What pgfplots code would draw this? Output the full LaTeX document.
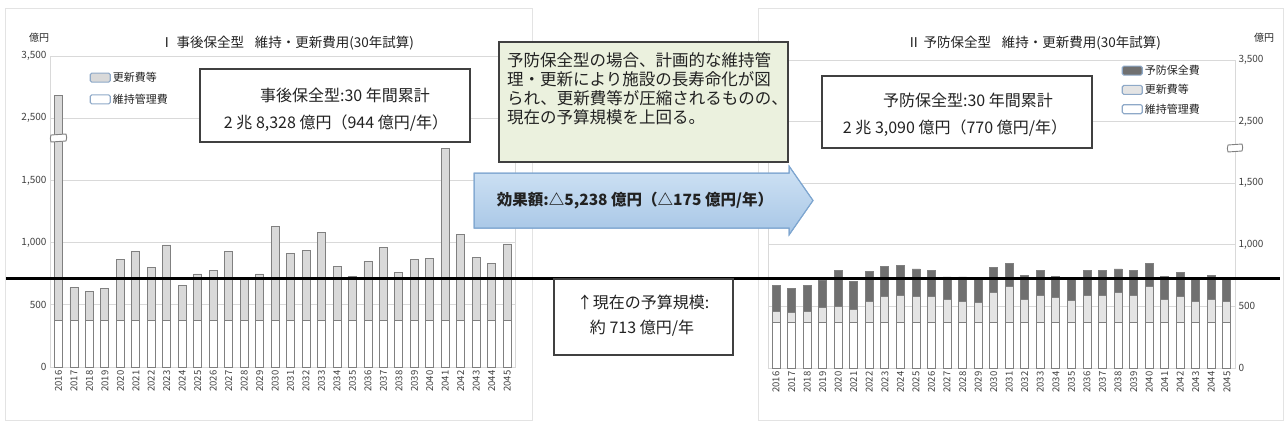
\documentclass[border=0pt]{standalone}
\usepackage{fontspec}
\setmainfont{Noto Sans CJK JP}
\usepackage{pgfplots}
\usepackage{pgfplotstable}
\pgfplotsset{compat=1.18}

\definecolor{gridc}{HTML}{D9D9D9}
\definecolor{framec}{HTML}{E3E3E3}
\definecolor{barline}{HTML}{808080}
\definecolor{renew}{HTML}{D9D9D9}
\definecolor{renewR}{HTML}{E4E4E4}
\definecolor{prev}{HTML}{707070}
\definecolor{legblue}{HTML}{8EA9C8}
\definecolor{boxgreen}{HTML}{EBF1DE}
\definecolor{boxdark}{HTML}{404040}
\definecolor{arrowtop}{HTML}{CFE2F4}
\definecolor{arrowbot}{HTML}{A7C6E6}
\definecolor{arrowline}{HTML}{7EA6D0}
\definecolor{txt}{HTML}{222222}
\definecolor{ticktxt}{HTML}{404040}

% Left chart: maintenance (維持管理費) and renewal (更新費等), in 億円.
% 2016 is drawn on the broken part of the axis (display value).
\pgfplotstableread{
year maint renew
2016 375 1811
2017 375 264
2018 375 232
2019 375 254
2020 375 488
2021 375 555
2022 375 426
2023 375 606
2024 375 278
2025 375 373
2026 375 402
2027 375 550
2028 375 335
2029 375 373
2030 375 752
2031 375 539
2032 375 558
2033 375 708
2034 375 434
2035 375 353
2036 375 474
2037 375 585
2038 375 388
2039 375 488
2040 375 496
2041 375 1385
2042 375 690
2043 375 506
2044 375 461
2045 375 614
}\leftdata

% Right chart: maintenance, renewal, preventive (予防保全費), in 億円.
\pgfplotstableread{
year maint renew prev
2016 370 92 205
2017 370 79 196
2018 370 92 210
2019 370 119 223
2020 370 133 290
2021 370 106 223
2022 370 168 247
2023 370 213 242
2024 370 219 242
2025 370 208 226
2026 370 213 210
2027 370 186 183
2028 370 168 201
2029 370 160 201
2030 370 240 205
2031 370 289 193
2032 370 186 194
2033 370 221 197
2034 370 200 175
2035 370 181 183
2036 370 221 197
2037 370 221 202
2038 370 240 194
2039 370 221 202
2040 370 289 193
2041 370 186 189
2042 370 208 194
2043 370 168 196
2044 370 186 194
2045 370 168 193
}\rightdata

\pgfplotsset{
  mylegimg/.style={legend image code/.code={%
    \draw[##1, draw=legblue, line width=1.1pt, rounded corners=1.5pt] (0pt,-4.5pt) rectangle (20pt,4.5pt);}},
  common/.style={
    scale only axis,
    ymin=0, ymax=2500,
    ybar stacked, bar width=8pt,
    axis line style={gridc, line width=0.8pt},
    ymajorgrids, grid style={gridc, line width=0.8pt},
    major tick length=0pt,
    xtick={2016,2017,...,2045},
    xticklabel style={rotate=90, anchor=east, font=\fontsize{9.5}{10}\selectfont, text=ticktxt,
      /pgf/number format/1000 sep={}, /pgf/number format/assume math mode=true},
    ytick={0,500,1000,1500,2000,2500},
    yticklabels={0,500,{1,000},{1,500},{2,500},{3,500}},
    yticklabel style={font=\fontsize{10}{11}\selectfont, text=ticktxt},
    legend cell align=left,
    reverse legend,
  },
}

\begin{document}
\begin{tikzpicture}
\fill[white] (0pt,0pt) rectangle (1286pt,-431pt);
\useasboundingbox (0pt,0pt) rectangle (1286pt,-431pt);

% outer frames of the two chart images
\draw[framec, line width=0.8pt] (5pt,-8pt) rectangle (532pt,-420pt);
\draw[framec, line width=0.8pt] (758pt,-8pt) rectangle (1283pt,-420pt);

% ---------------- left chart ----------------
\begin{axis}[common,
  at={(50pt,-367pt)}, anchor=south west,
  width=465pt, height=311pt,
  xmin=2015.45, xmax=2045.5,
  legend style={at={(0.085,0.955)}, anchor=north west, draw=none, fill=none,
    font=\fontsize{11}{12}\selectfont, text=txt, row sep=7pt, inner sep=0pt},
]
\addplot[fill=white, draw=barline, line width=0.9pt, mylegimg] table[x=year,y=maint]{\leftdata};
\addlegendentry{維持管理費}
\addplot[fill=renew, draw=barline, line width=0.9pt, mylegimg] table[x=year,y=renew]{\leftdata};
\addlegendentry{更新費等}
\end{axis}

% ---------------- right chart ----------------
\begin{axis}[common,
  at={(768pt,-368pt)}, anchor=south west,
  width=467pt, height=308pt,
  xmin=2015.48, xmax=2045.52,
  yticklabel pos=right,
  legend style={at={(0.757,0.99)}, anchor=north west, draw=none, fill=none,
    font=\fontsize{11}{12}\selectfont, text=txt, row sep=4.5pt, inner sep=0pt},
]
\addplot[fill=white, draw=barline, line width=0.9pt, mylegimg] table[x=year,y=maint]{\rightdata};
\addlegendentry{維持管理費}
\addplot[fill=renewR, draw=barline, line width=0.9pt, mylegimg] table[x=year,y=renew]{\rightdata};
\addlegendentry{更新費等}
\addplot[fill=prev, draw=barline, line width=0.9pt, mylegimg] table[x=year,y=prev]{\rightdata};
\addlegendentry{予防保全費}
\end{axis}

% axis break marks
\draw[barline, fill=white, line width=0.9pt] (51pt,-135pt) -- (66pt,-134pt) to[out=-70,in=70] (66pt,-141pt) -- (51pt,-142pt) to[out=110,in=-110] cycle;
\draw[barline, fill=white, line width=0.9pt] (1228pt,-145pt) -- (1242pt,-144pt) to[out=-70,in=70] (1242pt,-151pt) -- (1228pt,-152pt) to[out=110,in=-110] cycle;

% units and titles
\node[font=\fontsize{10}{11}\selectfont, text=txt] at (39pt,-38pt) {億円};
\node[font=\fontsize{10}{11}\selectfont, text=txt] at (1264pt,-38pt) {億円};
\node[font=\fontsize{13.5}{15}\selectfont, text=txt] at (287pt,-43pt) {Ⅰ 事後保全型\hspace{0.8em}維持・更新費用(30年試算)};
\node[font=\fontsize{13.5}{15}\selectfont, text=txt] at (1034pt,-43pt) {Ⅱ 予防保全型\hspace{0.8em}維持・更新費用(30年試算)};

% current budget line (713 億円/年)
\draw[black, line width=3pt] (6pt,-278pt) -- (1280pt,-278pt);

% left summary box
\draw[boxdark, line width=1.5pt, fill=white] (200pt,-69pt) rectangle (470pt,-142pt);
\node[font=\fontsize{16}{18}\selectfont, text=txt] at (345pt,-95pt) {事後保全型:30 年間累計};
\node[font=\fontsize{16}{18}\selectfont, text=txt] at (336pt,-123pt) {2 兆 8,328 億円（944 億円/年）};

% right summary box
\draw[boxdark, line width=1.5pt, fill=white] (822pt,-76pt) rectangle (1092pt,-148pt);
\node[font=\fontsize{16}{18}\selectfont, text=txt] at (968pt,-100pt) {予防保全型:30 年間累計};
\node[font=\fontsize{16}{18}\selectfont, text=txt] at (955pt,-128pt) {2 兆 3,090 億円（770 億円/年）};

% green explanatory box
\draw[boxdark, line width=1.5pt, fill=boxgreen] (499pt,-42pt) rectangle (788pt,-162pt);
\node[anchor=north west, align=left, inner sep=0pt, font=\fontsize{16.5}{19}\selectfont, text=txt] at (507pt,-52pt)
 {予防保全型の場合、計画的な維持管\\理・更新により施設の長寿命化が図\\られ、更新費等が圧縮されるものの、\\現在の予算規模を上回る。};

% effect arrow
\shade[top color=arrowtop, bottom color=arrowbot, draw=arrowline, line width=1pt]
 (474pt,-173pt) -- (789pt,-173pt) -- (789pt,-166pt) -- (813pt,-200.5pt) -- (789pt,-235pt) -- (789pt,-228pt) -- (474pt,-228pt) -- cycle;
\draw[arrowline, line width=1pt]
 (474pt,-173pt) -- (789pt,-173pt) -- (789pt,-166pt) -- (813pt,-200.5pt) -- (789pt,-235pt) -- (789pt,-228pt) -- (474pt,-228pt) -- cycle;
\node[font=\fontsize{15.5}{17}\selectfont\bfseries, text=txt] at (635pt,-201pt) {効果額:△5,238 億円（△175 億円/年）};

% budget box
\draw[boxdark, line width=1.5pt, fill=white] (554pt,-279pt) rectangle (733pt,-355pt);
\node[font=\fontsize{16}{18}\selectfont, text=txt] at (643pt,-302pt) {↑現在の予算規模:};
\node[font=\fontsize{16}{18}\selectfont, text=txt] at (642pt,-328pt) {約 713 億円/年};
\end{tikzpicture}
\end{document}
